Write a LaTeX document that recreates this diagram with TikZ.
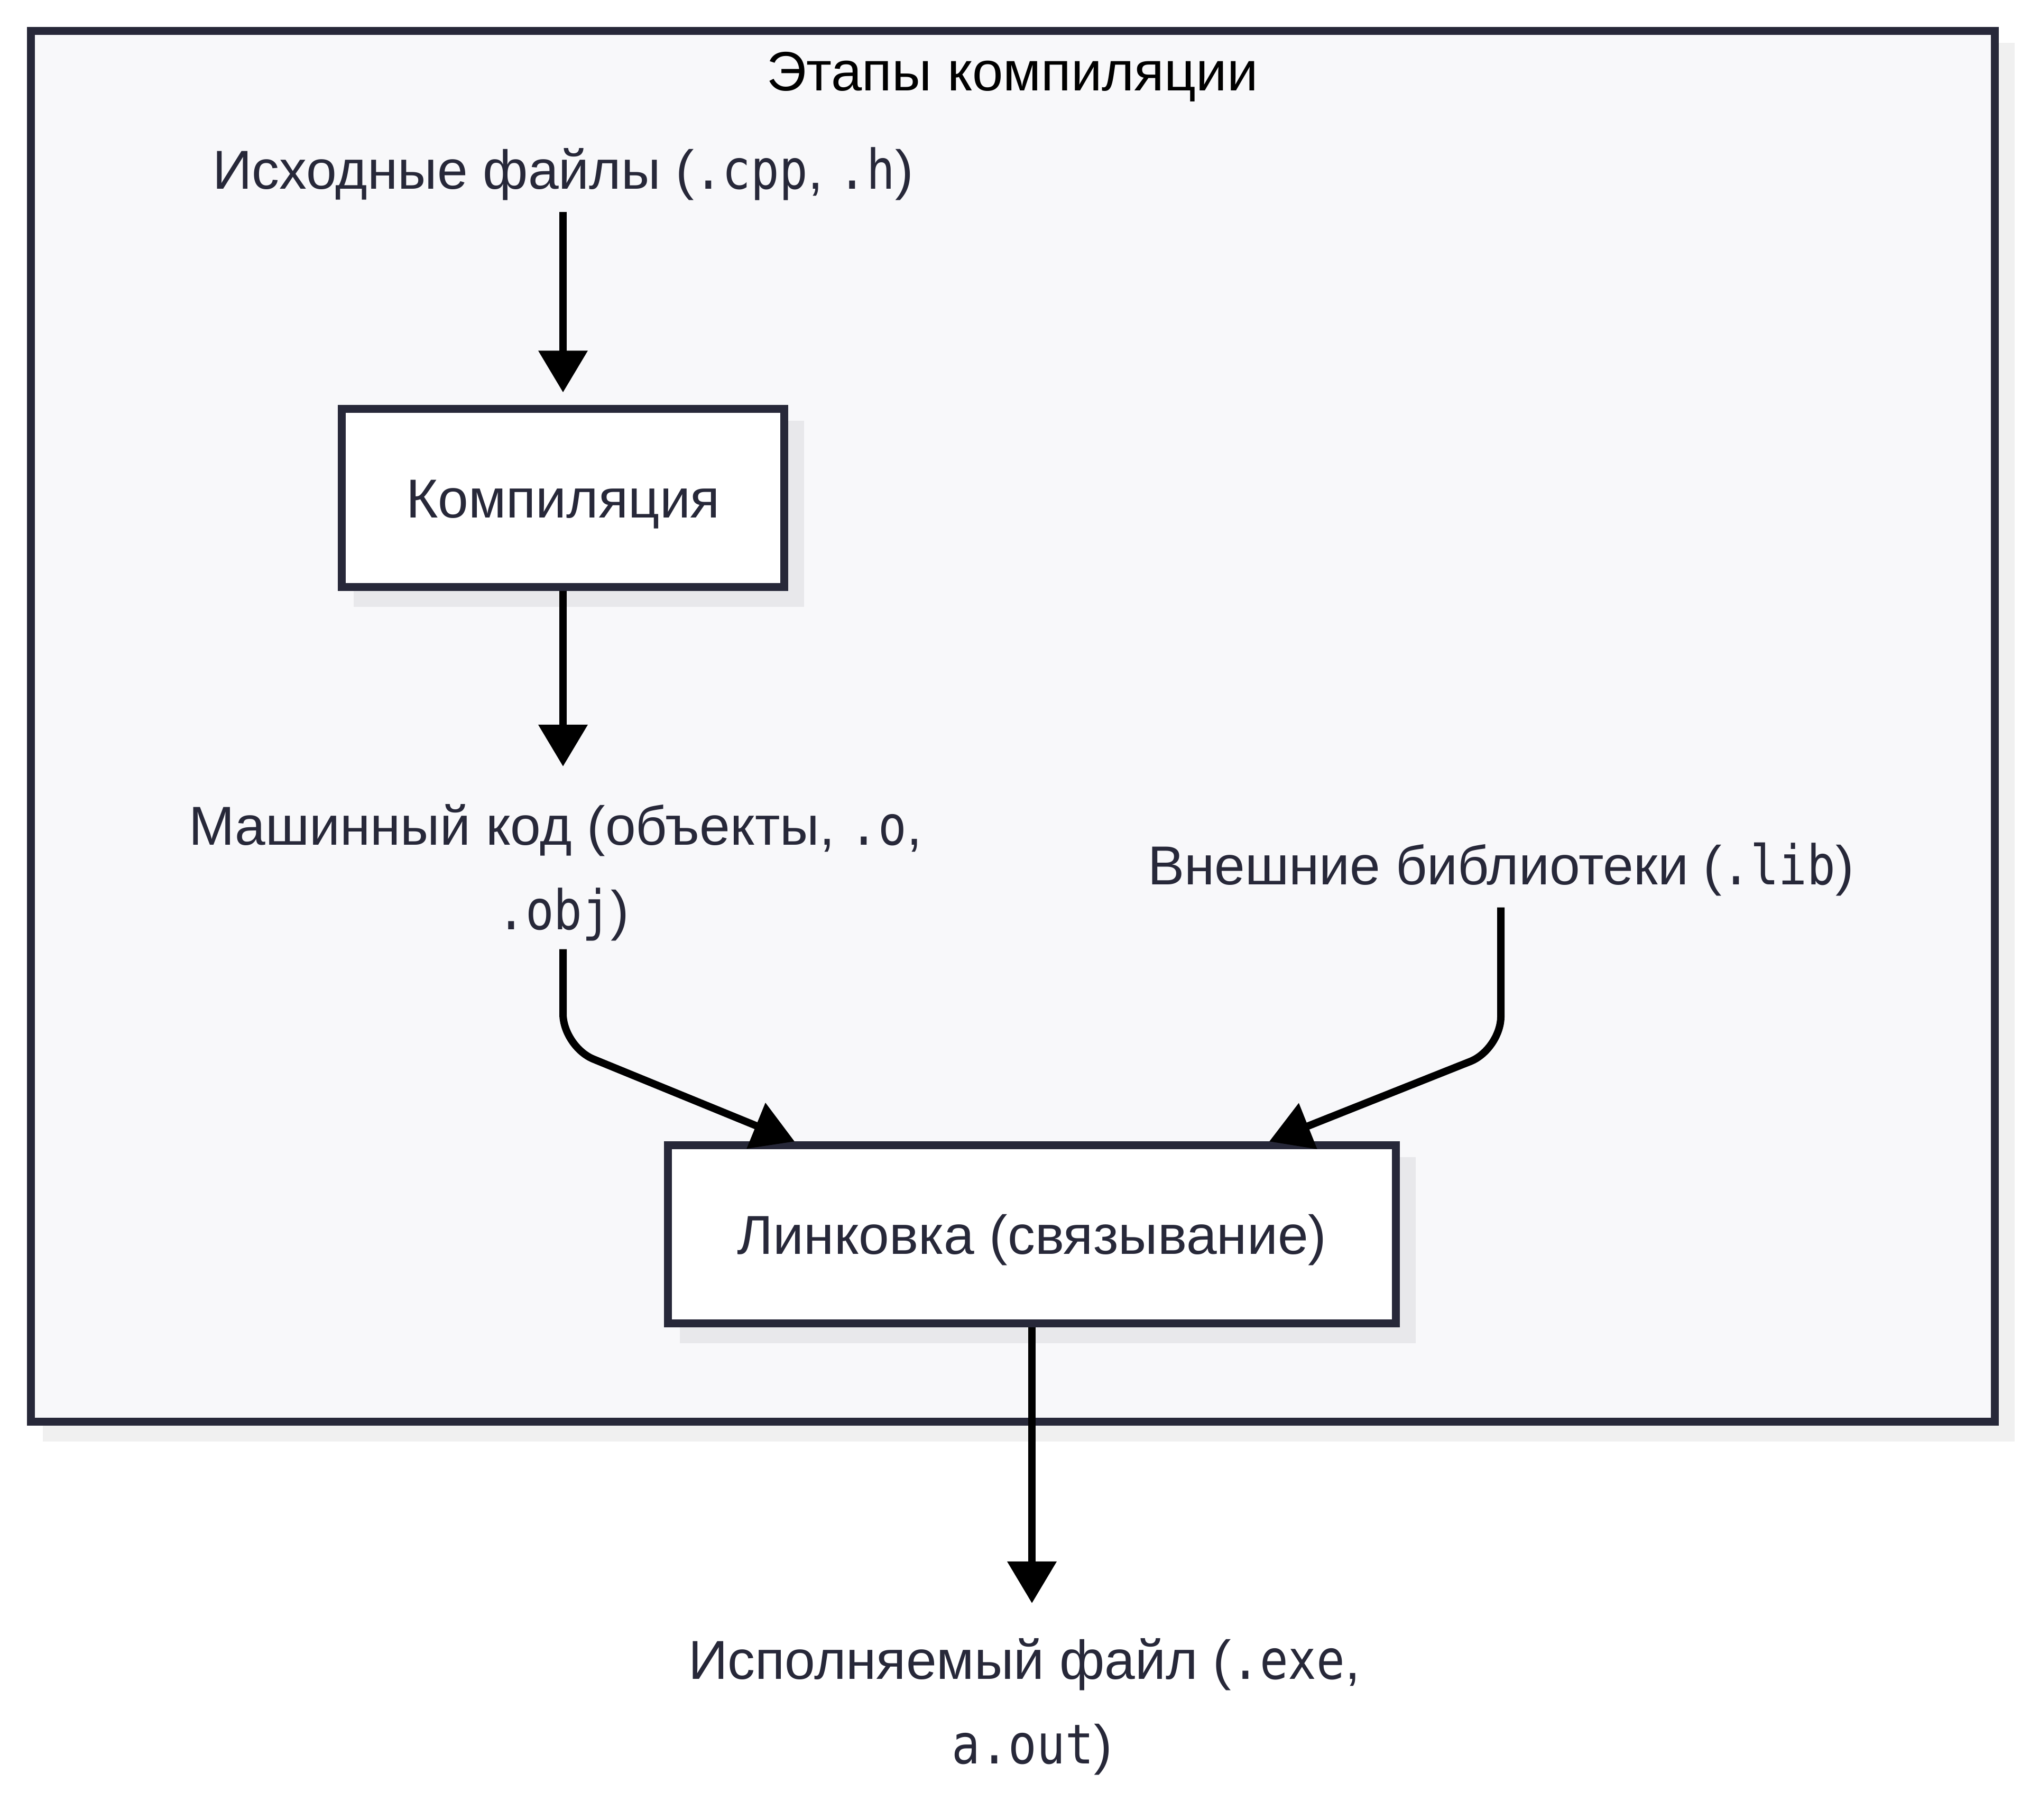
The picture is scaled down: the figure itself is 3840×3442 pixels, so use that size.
\documentclass[tikz,border=0pt]{standalone}
\usepackage{fontspec}
\setmainfont{Liberation Sans}
\setmonofont[FakeStretch=0.86]{DejaVu Sans Mono}
\usetikzlibrary{positioning,
        shadows,
        arrows.meta}
\definecolor{framefill}{HTML}{F8F8FA}
\definecolor{ink}{HTML}{272839}
\definecolor{shadowout}{HTML}{F0F0F0}
\definecolor{shadowin}{HTML}{E8E8EB}

\begin{document}
\begin{tikzpicture}[x=0.01cm, y=-0.01cm,
        txt/.style={inner sep=0pt, outer sep=0pt, text=ink, align=center,
            font=\fontsize{29.5}{45.5}\selectfont},
        stage/.style={rectangle, draw=ink, fill=white, line width=0.15cm, text=ink,
            font=\fontsize{29.5}{45.5}\selectfont, text height=0.74cm, text depth=0cm,
            minimum height=3.36cm,
            drop shadow={shadow xshift=0.3cm, shadow yshift=-0.3cm, fill=shadowin,
                draw=shadowin, line width=0.15cm, opacity=1}},
        flow/.style={-{Triangle[length=0.79cm, width=0.9cm]}, line width=0.14cm, black}]
            \fill [white] (0,0) rectangle (3840,3442);
            \useasboundingbox (0,0) rectangle (3840,3442);

            % subgraph frame
            \node [rectangle, draw=ink, fill=framefill, line width=0.15cm,
                minimum width=37.13cm, minimum height=26.29cm,
                drop shadow={shadow xshift=0.3cm, shadow yshift=-0.3cm, fill=shadowout,
                    draw=shadowout, line width=0.15cm, opacity=1}] (stages) at (1916,1374) {};
            \node [anchor=base, font=\fontsize{29.8}{36}\selectfont] (title) at (1915,171) {Этапы компиляции};

            \node [txt, anchor=base] (src) at (1065,357) {Исходные файлы (\texttt{.cpp}, \texttt{.h})};
            \node [stage, minimum width=8.36cm] (comp) at (1065,942) {Компиляция};
            \node [txt, anchor=north] (obj) at (1065,1521) {Машинный код (объекты, \texttt{.o},\hspace*{0.28em}\\ \texttt{.obj})};
            \node [txt, anchor=base] (lib) at (2839,1673) {Внешние библиотеки (\texttt{.lib})};
            \node [stage, minimum width=13.76cm] (link) at (1952,2335) {Линковка (связывание)};
            \node [txt, anchor=north] (exe) at (1952,3099) {Исполняемый файл (\texttt{.exe},\hspace*{0.28em}\\ \texttt{a.out})};

            \draw [flow, shorten <=0.22cm, shorten >=0.24cm] (src.south) -- (comp.north);
            \draw [flow, shorten >=0.71cm] (comp.south) -- (obj.north);
            \draw [flow, rounded corners=0.62cm, shorten <=0.16cm] (obj.south) -- (obj.south |- 0,1980) -- ([xshift=2.47cm]link.north west);
            \draw [flow, rounded corners=0.62cm, shorten <=0.22cm] (lib.south) -- (lib.south |- 0,1985) -- ([xshift=-2.47cm]link.north east);
            \draw [flow, shorten >=0.66cm] (link.south) -- (exe.north);
        \end{tikzpicture}
\end{document}
